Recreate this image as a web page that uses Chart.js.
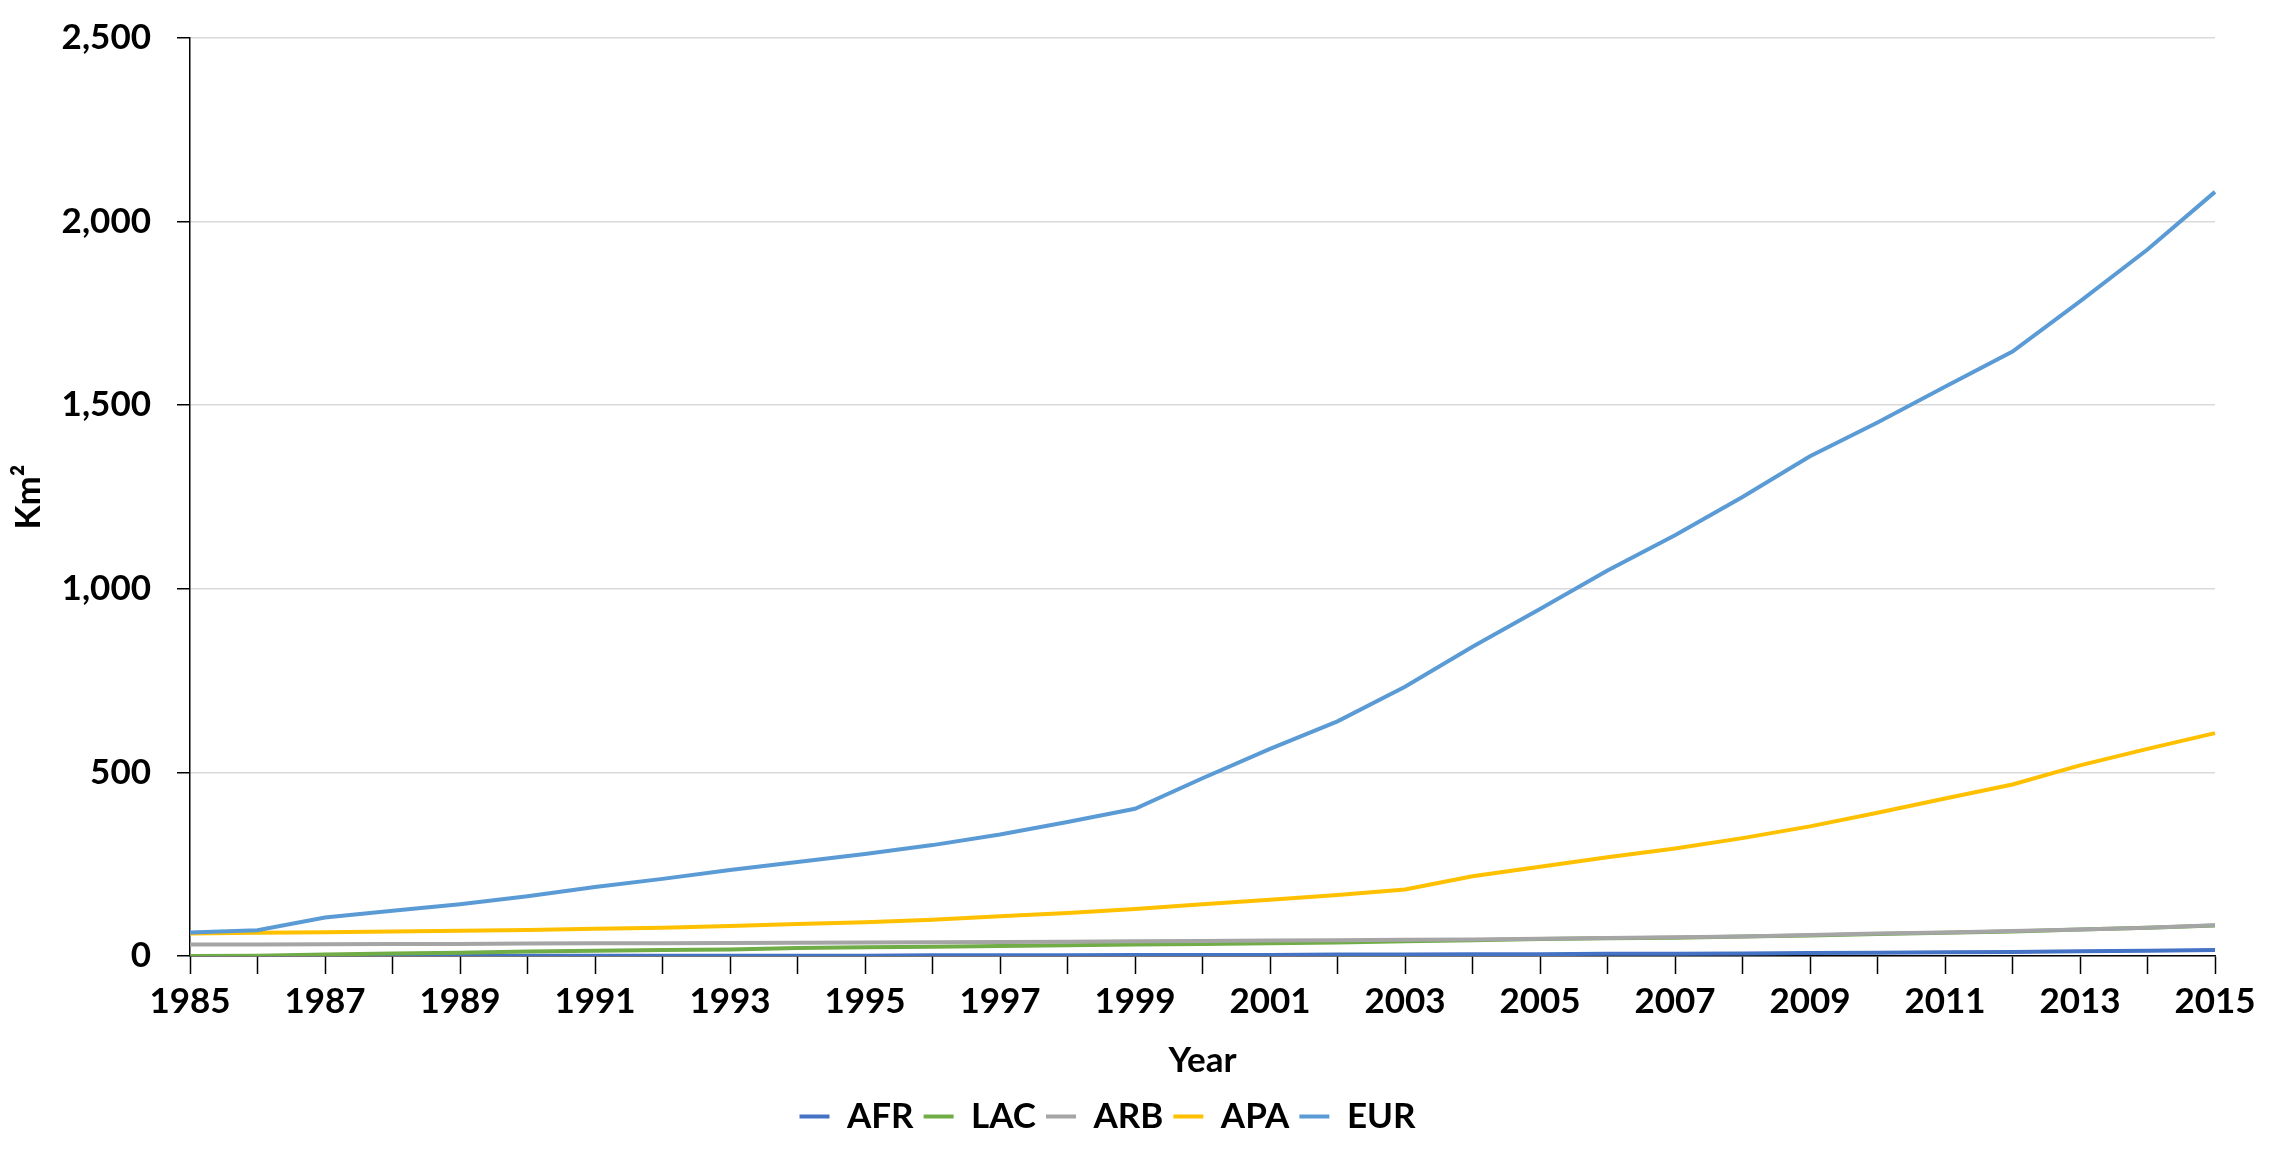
<!DOCTYPE html>
<html lang="en">
<head>
  <meta charset="UTF-8">
  <title>Km² by region</title>
  <script src="https://cdn.jsdelivr.net/npm/chart.js"></script>
  <style>
    body { margin: 0; background: #fff; }
    canvas { display: block; }
  </style>
</head>
<body>
  <canvas id="areaChart" width="2275" height="1154"></canvas>

  <script>
    // years on the x axis
    const years = [];
    for (let y = 1985; y <= 2015; y++) years.push(String(y));

    // values (Km²)
    const afr = [0, 0, 0, 0, 0, 1, 1, 1, 1, 1, 1, 2, 2, 2, 3, 3, 3, 4, 4, 5, 5, 6, 6, 7, 8, 9, 10, 11, 13, 14, 16];
    const lac = [0, 1, 4, 7, 9, 12, 14, 16, 18, 22, 24, 25, 27, 29, 31, 33, 35, 37, 40, 43, 46, 48, 50, 53, 56, 60, 63, 67, 72, 77, 83];
    const arb = [31, 31.5, 32, 32.5, 33, 34, 34.5, 35, 35.5, 36, 37, 37.5, 38, 39, 40, 41, 42, 43, 44, 45, 47, 49, 51, 53, 57, 61, 64, 68, 72, 77, 84];
    const apa = [61, 63, 65, 67, 69, 71, 74, 77, 82, 87, 92, 99, 108, 117, 128, 141, 153, 166, 181, 217, 243, 269, 293, 321, 353, 390, 429, 467, 519, 564, 607];
    const eur = [64, 70, 105, 123, 141, 163, 188, 210, 234, 256, 278, 302, 331, 365, 401, 484, 564, 639, 733, 842, 945, 1050, 1146, 1250, 1361, 1453, 1550, 1646, 1783, 1924, 2081];

    const yTicks = [0, 500, 1000, 1500, 2000, 2500];

    const font = { family: 'Lato', weight: 'bold', size: 35 };

    function line(label, data, color, order) {
      return {
        label: label,
        data: data,
        borderColor: color,
        backgroundColor: color,
        borderWidth: 4,
        pointRadius: 0,
        tension: 0,
        order: order
      };
    }

    const ctx = document.getElementById('areaChart').getContext('2d');

    new Chart(ctx, {
      type: 'line',
      data: {
        labels: years,
        datasets: [
          line('AFR', afr, '#4472C4', 5),
          line('LAC', lac, '#70AD47', 4),
          line('ARB', arb, '#A5A5A5', 3),
          line('APA', apa, '#FFC000', 2),
          line('EUR', eur, '#5B9BD5', 1)
        ]
      },
      options: {
        responsive: false,
        animation: false,
        devicePixelRatio: 1,
        layout: { padding: { left: 0, right: 60, top: 38, bottom: 10 } },
        plugins: {
          tooltip: { enabled: false },
          legend: {
            position: 'bottom',
            labels: {
              color: '#000',
              font: font,
              usePointStyle: true,
              pointStyle: 'line',
              pointStyleWidth: 30,
              padding: 10,
              sort: (a, b) => a.datasetIndex - b.datasetIndex
            }
          }
        },
        scales: {
          x: {
            grid: { drawOnChartArea: false, tickLength: 18, tickColor: '#000', tickWidth: 1.5 },
            border: { color: '#000', width: 1.5 },
            ticks: {
              color: '#000',
              font: font,
              autoSkip: false,
              maxRotation: 0,
              padding: 7,
              callback: function (v, i) { return i % 2 === 0 ? years[i] : ''; }
            },
            title: { display: true, text: 'Year', color: '#000', font: font, padding: { top: 0, bottom: 7 } },
            afterFit: function (s) { s.height = 133; s.paddingLeft = 0; s.paddingRight = 0; }
          },
          y: {
            min: 0,
            max: 2500,
            grid: { color: '#d9d9d9', lineWidth: 1.5, tickLength: 13, tickColor: '#000', tickWidth: 1.5 },
            border: { color: '#000', width: 1.5 },
            afterBuildTicks: function (s) { s.ticks = yTicks.map(v => ({ value: v })); },
            ticks: {
              color: '#000',
              font: font,
              padding: 26,
              callback: v => v.toLocaleString('en-US')
            },
            title: { display: true, text: 'Km²', color: '#000', font: font, padding: { top: 8, bottom: 0 } },
            afterFit: function (s) { s.width = 190; s.paddingTop = 0; s.paddingBottom = 0; }
          }
        }
      }
    });
  </script>
</body>
</html>
